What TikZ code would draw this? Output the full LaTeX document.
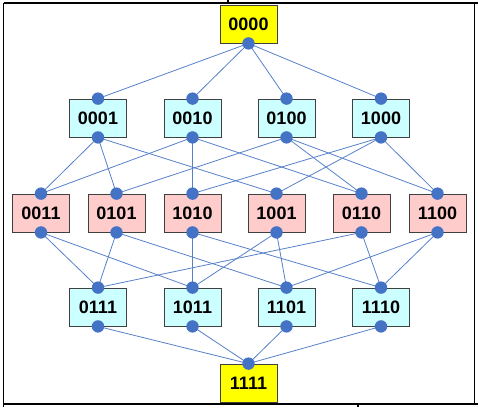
\documentclass[tikz,border=0pt]{standalone}
\usepackage{fontspec}
\setmainfont{Liberation Sans}
\usetikzlibrary{positioning}
\definecolor{dotblue}{HTML}{4472C4}
\definecolor{boxcyan}{HTML}{CCFFFF}
\definecolor{boxpink}{HTML}{FFCCCC}
\definecolor{boxyellow}{HTML}{FFFF00}
\definecolor{boxedge}{HTML}{404040}

\tikzset{
  bitbox/.style={draw=boxedge, line width=0.8pt,
    minimum width=57pt, minimum height=38pt, inner sep=0pt,
    font=\bfseries\fontsize{18}{18}\selectfont},
  link/.style={draw=dotblue!90!white, line width=0.8pt},
  frame/.style={line width=1.4pt}
}

\begin{document}
\begin{tikzpicture}[x=1pt,y=-1pt]

\useasboundingbox (0,0) rectangle (478,407);

% table frame
\draw[frame] (3.5,3) -- (478,3);
\draw[frame] (3.5,3) -- (3.5,407);
\draw[frame] (474.5,3) -- (474.5,404);
\draw[frame] (3.5,404) -- (478,404);
\draw[frame] (358,404) -- (358,407);
\draw[frame] (228,0) -- (228,3);

% top
\node[bitbox,fill=boxyellow] (n0000) at (248.5,24) {0000};

% one bit set
\node[bitbox,fill=boxcyan] (n0001) at (98,118) {0001};
\node[bitbox,fill=boxcyan] (n0010) at (192.5,118) {0010};
\node[bitbox,fill=boxcyan] (n0100) at (286.5,118) {0100};
\node[bitbox,fill=boxcyan] (n1000) at (381,118) {1000};

% two bits set
\node[bitbox,fill=boxpink] (n0011) at (41,213) {0011};
\node[bitbox,fill=boxpink] (n0101) at (116.5,213) {0101};
\node[bitbox,fill=boxpink] (n1010) at (192.5,213) {1010};
\node[bitbox,fill=boxpink] (n1001) at (276.5,213) {1001};
\node[bitbox,fill=boxpink] (n0110) at (361.5,213) {0110};
\node[bitbox,fill=boxpink] (n1100) at (437.5,213) {1100};

% three bits set
\node[bitbox,fill=boxcyan] (n0111) at (98,307) {0111};
\node[bitbox,fill=boxcyan] (n1011) at (192.5,307) {1011};
\node[bitbox,fill=boxcyan] (n1101) at (286.5,307) {1101};
\node[bitbox,fill=boxcyan] (n1110) at (381,307) {1110};

% bottom
\node[bitbox,fill=boxyellow] (n1111) at (248.5,383) {1111};

% links
\foreach \a/\b in {0000/0001,0000/0010,0000/0100,0000/1000,
  0001/0011,0001/0101,0001/1001,
  0010/0011,0010/1010,0010/0110,
  0100/0101,0100/0110,0100/1100,
  1000/1010,1000/1001,1000/1100,
  0011/0111,0011/1011,
  0101/0111,0101/1101,
  1010/1011,1010/1110,
  1001/1011,1001/1101,
  0110/0111,0110/1110,
  1100/1101,1100/1110,
  0111/1111,1011/1111,1101/1111,1110/1111}
  \draw[link] (n\a.south) -- (n\b.north);

% dots
\foreach \n in {0001,0010,0100,1000,0011,0101,1010,1001,0110,1100,
  0111,1011,1101,1110,1111}
  \fill[dotblue] (n\n.north) circle (6.2pt);
\foreach \n in {0000,0001,0010,0100,1000,0011,0101,1010,1001,0110,1100,
  0111,1011,1101,1110}
  \fill[dotblue] (n\n.south) circle (6.2pt);

\end{tikzpicture}
\end{document}
